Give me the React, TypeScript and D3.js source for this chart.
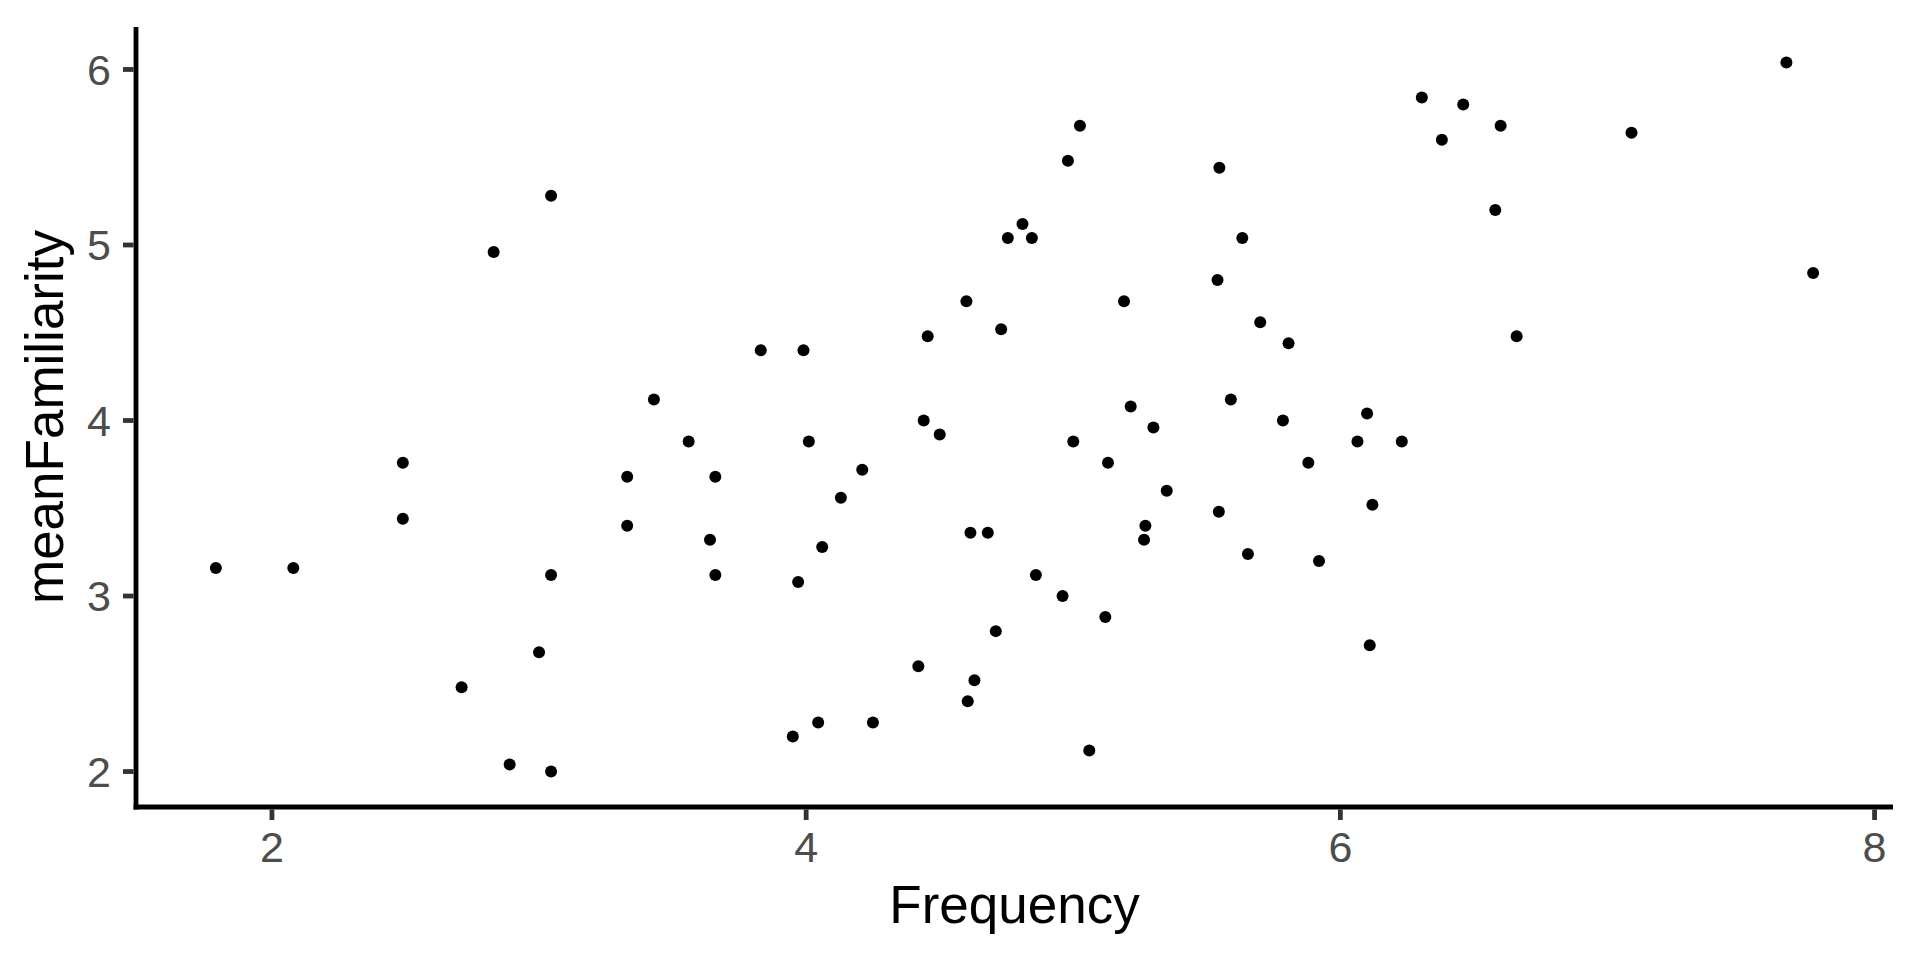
import React from "react";
import * as d3 from "d3";

const frequency: number[] = [
  1.79, 2.08, 2.49, 2.49, 2.71, 2.83, 2.89, 3.0, 3.045, 3.045, 3.045,
  3.33, 3.33, 3.43, 3.56, 3.64, 3.66, 3.66, 3.83, 3.95, 4.045, 3.97,
  3.99, 4.01, 4.06, 4.13, 4.21, 4.25, 4.42, 4.44, 4.455, 4.5, 4.6,
  4.605, 4.615, 4.63, 4.68, 4.71, 4.73, 4.755, 4.81, 4.845, 4.86, 4.96,
  4.98, 5.0, 5.025, 5.06, 5.12, 5.13, 5.19, 5.215, 5.265, 5.27, 5.3,
  5.35, 5.54, 5.545, 5.547, 5.59, 5.633, 5.654, 5.7, 5.785, 5.806, 5.88,
  5.92, 6.064, 6.1, 6.11, 6.12, 6.23, 6.305, 6.38, 6.46, 6.58, 6.6,
  6.66, 7.09, 7.67, 7.77,
];

const meanFamiliarity: number[] = [
  3.16, 3.16, 3.76, 3.44, 2.48, 4.96, 2.04, 2.68, 5.28, 3.12, 2.0,
  3.68, 3.4, 4.12, 3.88, 3.32, 3.68, 3.12, 4.4, 2.2, 2.28, 3.08,
  4.4, 3.88, 3.28, 3.56, 3.72, 2.28, 2.6, 4.0, 4.48, 3.92, 4.68,
  2.4, 3.36, 2.52, 3.36, 2.8, 4.52, 5.04, 5.12, 5.04, 3.12, 3.0,
  5.48, 3.88, 5.68, 2.12, 2.88, 3.76, 4.68, 4.08, 3.32, 3.4, 3.96,
  3.6, 4.8, 3.48, 5.44, 4.12, 5.04, 3.24, 4.56, 4.0, 4.44, 3.76,
  3.2, 3.88, 4.04, 2.72, 3.52, 3.88, 5.84, 5.6, 5.8, 5.2, 5.68,
  4.48, 5.64, 6.04, 4.84,
];

const xTicks: number[] = [2, 4, 6, 8];
const yTicks: number[] = [2, 3, 4, 5, 6];
const xTitle = "Frequency";
const yTitle = "meanFamiliarity";

const W = 1920;
const H = 960;
const panel = { left: 136, right: 1893, top: 27, bottom: 807 };
const FONT = "'Liberation Sans', Arial, Helvetica, sans-serif";

function expand(ext: [number, number], m = 0.05): [number, number] {
  const r = ext[1] - ext[0];
  return [ext[0] - r * m, ext[1] + r * m];
}

export default function App() {
  const x = d3
    .scaleLinear()
    .domain(expand(d3.extent(frequency) as [number, number]))
    .range([panel.left, panel.right]);
  const y = d3
    .scaleLinear()
    .domain(expand(d3.extent(meanFamiliarity) as [number, number]))
    .range([panel.bottom, panel.top]);

  const points = frequency.map((f, i) => ({ f, m: meanFamiliarity[i] }));
  const tickLen = 13;
  const lw = 4.8;

  return (
    <svg
      width={W}
      height={H}
      style={{ position: "absolute", left: 0, top: 0, display: "block", background: "#fff" }}
    >
      <rect x={0} y={0} width={W} height={H} fill="#ffffff" />
      {points.map((p, i) => (
        <circle key={i} cx={x(p.f)} cy={y(p.m)} r={6} fill="#000000" />
      ))}
      {/* axis lines */}
      <line
        x1={panel.left}
        x2={panel.left}
        y1={panel.top}
        y2={panel.bottom + lw / 2}
        stroke="#000"
        strokeWidth={lw}
      />
      <line
        x1={panel.left - lw / 2}
        x2={panel.right}
        y1={panel.bottom}
        y2={panel.bottom}
        stroke="#000"
        strokeWidth={lw}
      />
      {/* x ticks */}
      {xTicks.map((t) => (
        <g key={"x" + t}>
          <line
            x1={x(t)}
            x2={x(t)}
            y1={panel.bottom + lw / 2}
            y2={panel.bottom + tickLen}
            stroke="#333333"
            strokeWidth={lw}
          />
          <text
            x={x(t)}
            y={862}
            textAnchor="middle"
            fontFamily={FONT}
            fontSize={43}
            fill="#4D4D4D"
          >
            {t}
          </text>
        </g>
      ))}
      {/* y ticks */}
      {yTicks.map((t) => (
        <g key={"y" + t}>
          <line
            x1={panel.left - tickLen}
            x2={panel.left - lw / 2}
            y1={y(t)}
            y2={y(t)}
            stroke="#333333"
            strokeWidth={lw}
          />
          <text
            x={111}
            y={y(t) + 15.4}
            textAnchor="end"
            fontFamily={FONT}
            fontSize={43}
            fill="#4D4D4D"
          >
            {t}
          </text>
        </g>
      ))}
      <text
        x={(panel.left + panel.right) / 2}
        y={923}
        textAnchor="middle"
        fontFamily={FONT}
        fontSize={53}
        fill="#000"
      >
        {xTitle}
      </text>
      <text
        transform={`translate(63, ${(panel.top + panel.bottom) / 2}) rotate(-90)`}
        textAnchor="middle"
        fontFamily={FONT}
        fontSize={53}
        fill="#000"
      >
        {yTitle}
      </text>
    </svg>
  );
}
